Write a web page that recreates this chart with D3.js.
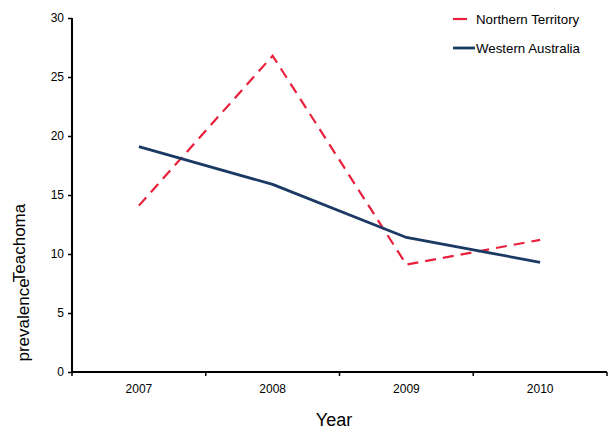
<!DOCTYPE html>
<html><head><meta charset="utf-8">
<script src="https://cdn.jsdelivr.net/npm/d3@7"></script>
<style>body{margin:0;background:#fff}svg{display:block;font-family:"Liberation Sans",Arial,sans-serif}</style>
</head><body>
<script>
const years = ["2007","2008","2009","2010"];
const northernTerritory = [14.1, 26.8, 9.1, 11.2];
const westernAustralia = [19.1, 15.9, 11.4, 9.3];
const yTicks = [0,5,10,15,20,25,30];

const W=608,H=430;
const svg=d3.select("body").append("svg").attr("width",W).attr("height",H);
const x=d3.scaleBand().domain(years).range([72,607]);
const y=d3.scaleLinear().domain([0,30]).range([372,18]);

const yAxis=svg.append("g").attr("transform","translate(72,0)")
  .call(d3.axisLeft(y).tickValues(yTicks).tickSize(4).tickPadding(4));
yAxis.selectAll("text").attr("font-size",12).attr("fill","#000");
yAxis.select(".domain").attr("stroke-width",2).attr("d","M0,18V372");
yAxis.selectAll(".tick line").attr("stroke-width",1.5);

const xAxis=svg.append("g").attr("transform","translate(0,372)")
  .call(d3.axisBottom(x).tickSize(0).tickPadding(12));
xAxis.selectAll("text").attr("font-size",12).attr("fill","#000");
xAxis.select(".domain").attr("stroke-width",2).attr("d","M72,0H607");
const bounds=[...years.map(d=>x(d)), x.range()[1]];
svg.append("g").selectAll("line").data(bounds).join("line")
  .attr("x1",d=>d).attr("x2",d=>d).attr("y1",372).attr("y2",376)
  .attr("stroke","#000").attr("stroke-width",1.5);

const line=d3.line().x((d,i)=>x(years[i])+x.bandwidth()/2).y(d=>y(d));
svg.append("path").datum(northernTerritory).attr("d",line).attr("fill","none")
  .attr("stroke","#e8203c").attr("stroke-width",2.2).attr("stroke-dasharray","11,7");
svg.append("path").datum(westernAustralia).attr("d",line).attr("fill","none")
  .attr("stroke","#1b3a63").attr("stroke-width",2.8);

// legend
svg.append("line").attr("x1",453).attr("x2",467).attr("y1",19).attr("y2",19)
  .attr("stroke","#e8203c").attr("stroke-width",2.2);
svg.append("text").attr("x",476).attr("y",24).attr("font-size",13.3).text("Northern Territory");
svg.append("line").attr("x1",453).attr("x2",475).attr("y1",48).attr("y2",48)
  .attr("stroke","#1b3a63").attr("stroke-width",2.8);
svg.append("text").attr("x",476).attr("y",53).attr("font-size",13.3).text("Western Australia");

// axis titles
svg.append("text").attr("x",334).attr("y",426).attr("text-anchor","middle").attr("font-size",18).text("Year");
svg.append("text").attr("transform","translate(25,243) rotate(-90)").attr("text-anchor","middle").attr("font-size",17).text("Teachoma");
svg.append("text").attr("transform","translate(29,320) rotate(-90)").attr("text-anchor","middle").attr("font-size",17).text("prevalence");
</script>
</body></html>
